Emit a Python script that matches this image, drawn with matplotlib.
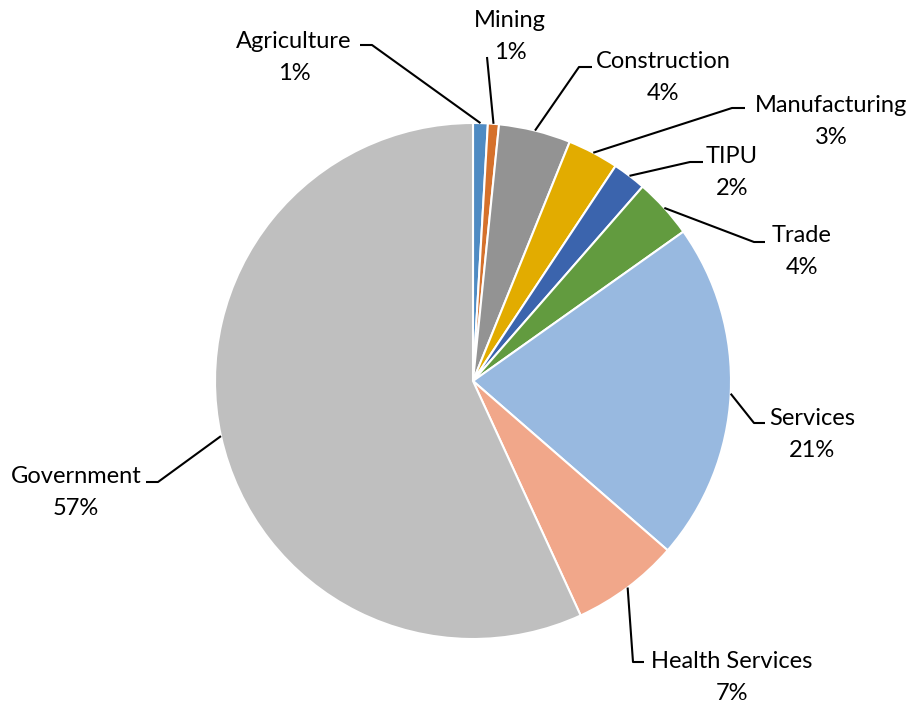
import numpy as np
import matplotlib.pyplot as plt

sectors = ['Agriculture', 'Mining', 'Construction', 'Manufacturing', 'TIPU',
           'Trade', 'Services', 'Health Services', 'Government']
shares = [0.92, 0.69, 4.5, 3.2, 2.1, 3.75, 21.2, 6.75, 56.8]
pct_labels = ['1%', '1%', '4%', '3%', '2%', '4%', '21%', '7%', '57%']
colors = ['#4F8BC3', '#D5712C', '#939393', '#E2AC00', '#3B64AD',
          '#629B3F', '#98B9E0', '#F1A78A', '#BFBFBF']

# layout in pixels: label centre x / baseline y, elbow of leader, end of stub
W, H = 918, 707
CX, CY, R = 473, 381, 258
text_px = [(294, 48), (510, 27), (663, 68), (831, 112), (732, 163),
           (802, 242), (812, 425), (732, 668), (76, 483)]
elbow_px = [(372, 45), (487, 57), (579, 67), (732, 108), (690, 162),
            (754, 242), (754, 423), (633, 662), (158, 482)]
stub_px = [(360, 45), (487, 57), (592, 67), (745, 108), (703, 162),
           (765, 242), (765, 423), (644, 662), (146, 482)]
LINE_GAP = 32


def to_data(x, y):
    return (x - CX) / R, (CY - y) / R


plt.rcParams['font.family'] = ['Lato', 'DejaVu Sans']
fig = plt.figure(figsize=(W / 100, H / 100), dpi=100)
ax = fig.add_axes([0, 0, 1, 1])
wedges, _ = ax.pie(shares, colors=colors, startangle=90, counterclock=False,
                   radius=1, center=(0, 0),
                   wedgeprops=dict(edgecolor='white', linewidth=1.5))

for i, w in enumerate(wedges):
    mid = np.deg2rad((w.theta1 + w.theta2) / 2)
    ex, ey = to_data(*elbow_px[i])
    sx, sy = to_data(*stub_px[i])
    ax.plot([np.cos(mid), ex, sx], [np.sin(mid), ey, sy], color='black',
            lw=1.5, solid_capstyle='butt')
    tx, ty = to_data(*text_px[i])
    ax.text(tx, ty, sectors[i], ha='center', va='baseline', fontsize=17)
    tx, ty = to_data(text_px[i][0], text_px[i][1] + LINE_GAP)
    ax.text(tx, ty, pct_labels[i], ha='center', va='baseline', fontsize=17)

ax.set_xlim(-CX / R, (W - CX) / R)
ax.set_ylim(-(H - CY) / R, CY / R)
ax.set_aspect('equal')
ax.axis('off')
fig.savefig('out.png', dpi=100)
